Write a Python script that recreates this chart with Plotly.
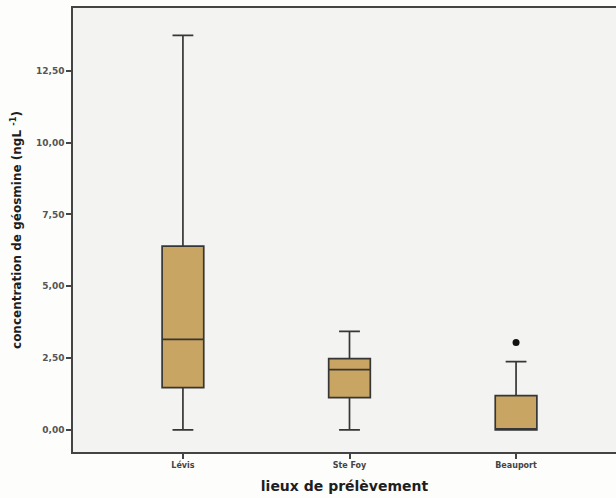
import plotly.graph_objects as go

# Geosmin concentration by sampling site (summary statistics, ng/L)
sites = ["Lévis", "Ste Foy", "Beauport"]
lower_fence = [0.0, 0.0, 0.0]
q1 = [1.47, 1.12, 0.0]
median = [3.15, 2.10, 0.0]
q3 = [6.40, 2.48, 1.19]
upper_fence = [13.74, 3.43, 2.38]

outlier_sites = ["Beauport"]
outlier_values = [3.04]

y_ticks = [0.0, 2.5, 5.0, 7.5, 10.0, 12.5]

box_fill = "#c8a562"
line_col = "#363636"

fig = go.Figure()
fig.add_trace(go.Box(
    x=sites,
    q1=q1, median=median, q3=q3,
    lowerfence=lower_fence, upperfence=upper_fence,
    fillcolor=box_fill,
    line=dict(color=line_col, width=1.7),
    width=0.25,
    whiskerwidth=0.5,
    boxpoints=False,
    showlegend=False,
    hoverinfo="skip",
))
fig.add_trace(go.Scatter(
    x=outlier_sites, y=outlier_values,
    mode="markers",
    marker=dict(color="#111111", size=7, symbol="circle"),
    showlegend=False,
    hoverinfo="skip",
))

fig.update_layout(
    width=616, height=498,
    margin=dict(l=73, r=0, t=8, b=46),
    paper_bgcolor="#fdfdfc",
    plot_bgcolor="#f3f3f1",
    separators=", ",
    font=dict(family="DejaVu Sans", color="#333333"),
    xaxis=dict(
        type="category",
        categoryorder="array", categoryarray=sites,
        range=[-0.66, 2.60],
        showgrid=False, zeroline=False,
        showline=True, linecolor="#444444", linewidth=1.5, mirror=True,
        ticks="outside", ticklen=5, tickcolor="#444444", tickwidth=1.5,
        tickfont=dict(size=8, color="#444444", weight="bold"),
        title=dict(text="<b>lieux de prélèvement</b>",
                   font=dict(size=14, color="#1e1e1e", family="DejaVu Sans"),
                   standoff=12),
    ),
    yaxis=dict(
        range=[-0.77, 14.69],
        tickvals=y_ticks,
        tickformat=".2f",
        showgrid=False, zeroline=False,
        showline=True, linecolor="#444444", linewidth=1.5,
        ticks="outside", ticklen=5, tickcolor="#444444", tickwidth=1.5,
        tickfont=dict(size=9, color="#555555", family="DejaVu Sans", weight="bold"),
        title=dict(text="<b>concentration de géosmine (ngL <sup>-1</sup>)</b>",
                   font=dict(size=12, color="#1e1e1e", family="DejaVu Sans"),
                   standoff=12),
    ),
)

fig.write_html("out.html")
